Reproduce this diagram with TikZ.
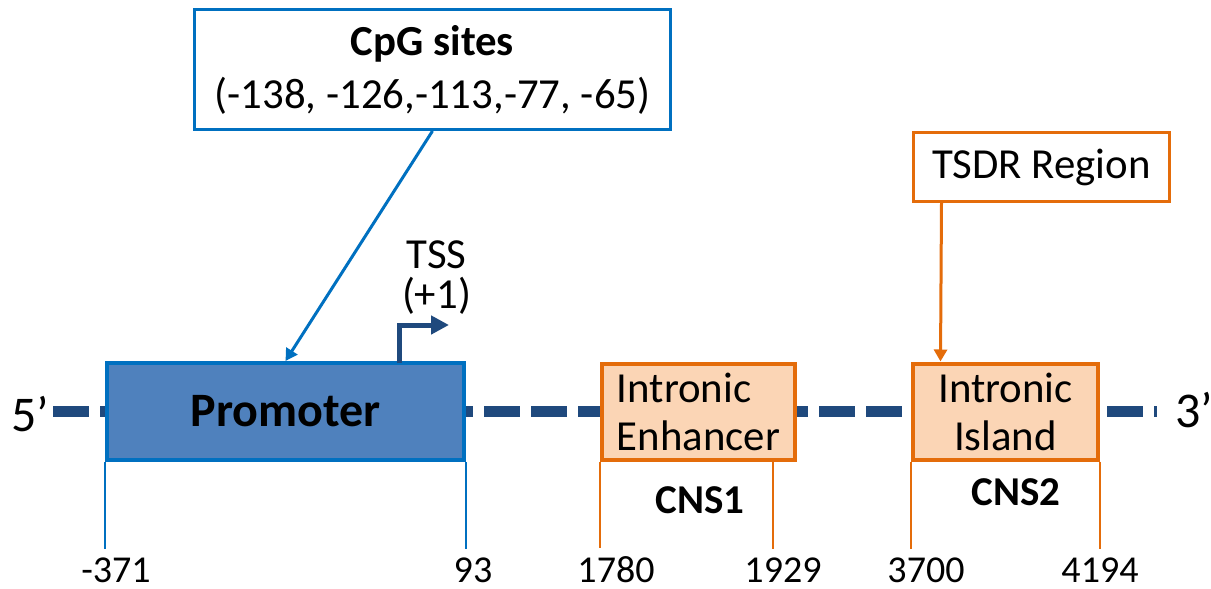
\documentclass[tikz,border=0pt]{standalone}
\usepackage{fontspec}
\setmainfont{Carlito}
\usepackage{tikz}
\usetikzlibrary{arrows.meta,calc,positioning,shapes}
\definecolor{cpgblue}{RGB}{0,112,192}
\definecolor{promfill}{RGB}{79,129,189}
\definecolor{dnablue}{RGB}{31,73,125}
\definecolor{cnsorange}{RGB}{228,108,10}
\definecolor{cnsfill}{RGB}{251,213,181}
\tikzset{%
	promoter/.style   = {draw=cpgblue, fill=promfill, line width=2pt, rectangle, minimum width=178.5pt, minimum height=48.5pt, font=\fontsize{24}{26}\selectfont\bfseries},
	cns/.style        = {draw=cnsorange, fill=cnsfill, line width=2pt, rectangle, minimum height=48pt, inner sep=0pt, font=\fontsize{21.4}{24}\selectfont}, % intronic boxes
	callout/.style    = {fill=white, rectangle, line width=1.5pt, inner sep=0pt, font=\fontsize{21.4}{26.5}\selectfont, align=center},
	poslabel/.style   = {inner sep=0pt, font=\fontsize{19}{22}\selectfont}, % coordinates
	tag/.style        = {inner sep=0pt, font=\fontsize{21.4}{20}\selectfont, align=center},
	strandend/.style  = {inner sep=0pt, font=\fontsize{25}{26}\selectfont},
	cnstag/.style     = {inner sep=0pt, font=\fontsize{20.5}{22}\selectfont\bfseries},
	strand/.style     = {dnablue, line width=5.5pt, dash pattern=on 18pt off 5.5pt},
	bluetick/.style   = {cpgblue, line width=1pt},
	orangetick/.style = {cnsorange, line width=1pt},
	pointer/.style    = {line width=1.5pt, -{Triangle[length=6pt,width=6.5pt]}},
	tssarrow/.style   = {dnablue, line width=2.5pt, -{Triangle[length=9pt,width=9pt]}},
}

\begin{document}
\begin{tikzpicture}[x=0.5pt, y=-0.5pt]
	\useasboundingbox (0,0) rectangle (1211,589);
	% strand ends
	\node[strandend] (five) at (30,414) {5’};
	\node[strandend] (three) at (1194,410) {3’};
	% boxes on the strand
	\node[promoter] (prom) at (285.5,411.5) {Promoter};
	\node[cns, minimum width=96.5pt, align=left] (enh) at (698.5,411.5) {Intronic\\Enhancer};
	\node[cns, minimum width=92.5pt, align=center] (isl) at (1005.5,411.5) {Intronic\\Island};
	% strand between the boxes
	\draw[strand] ([xshift=2pt]five.east |- prom.west) -- (prom.west);
	\draw[strand, dash phase=14.5pt] (prom.east) -- (enh.west);
	\draw[strand, dash phase=12.5pt] (enh.east) -- (isl.west);
	\draw[strand, dash phase=20pt] (isl.east) -- ([xshift=-9pt]three.west |- isl.east);
	% call-outs
	\node[callout, draw=cpgblue, minimum width=238pt, minimum height=60pt] (cpg) at (432.5,69.5) {{\bfseries CpG sites}\\(-138, -126,-113,-77, -65)};
	\node[callout, draw=cnsorange, minimum width=128pt, minimum height=34.5pt] (tsdr) at (1041.5,167) {TSDR Region};
	\draw[pointer, cpgblue] (cpg.south) -- (prom.north);
	\draw[pointer, cnsorange] ([xshift=14.75pt]tsdr.south west) -- ([xshift=14.75pt]isl.north west);
	% TSS
	\coordinate (tssfoot) at (399,363);
	\coordinate (tssend) at (449,325);
	\draw[tssarrow] (tssfoot) |- (tssend);
	\node[tag] (tss) at (436.5,278) {TSS\\(+1)};
	% positions
	\node[poslabel] (n371) at (116,570) {-371};
	\node[poslabel] (n93) at (473,570) {93};
	\node[poslabel] (n1780) at (616,570) {1780};
	\node[poslabel] (n1929) at (783,570) {1929};
	\node[poslabel] (n3700) at (926,570) {3700};
	\node[poslabel] (n4194) at (1100,570) {4194};
	\coordinate (enhR) at ([xshift=-12pt]enh.south east);
	\draw[bluetick] (prom.south west) -- ([yshift=4pt]prom.south west |- n371.north);
	\draw[bluetick] (prom.south east) -- ([yshift=4pt]prom.south east |- n93.north);
	\draw[orangetick] (enh.south west) -- ([yshift=4pt]enh.south west |- n1780.north);
	\draw[orangetick] (enhR) -- ([yshift=4pt]enhR |- n1929.north);
	\draw[orangetick] (isl.south west) -- ([yshift=4pt]isl.south west |- n3700.north);
	\draw[orangetick] (isl.south east) -- ([yshift=4pt]isl.south east |- n4194.north);
	\node[cnstag] (cns1) at (700,500) {CNS1};
	\node[cnstag] (cns2) at (1016,492) {CNS2};
\end{tikzpicture}
\end{document}
